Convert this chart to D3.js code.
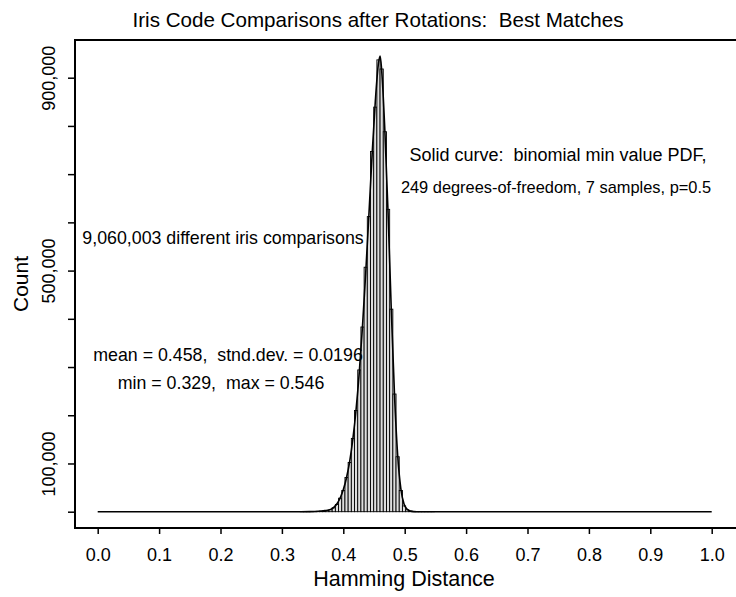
<!DOCTYPE html>
<html>
<head>
<meta charset="utf-8">
<script src="https://cdn.jsdelivr.net/npm/d3@7"></script>
<style>
  body { margin: 0; background: #fff; }
  svg { display: block; }
  text { font-family: "Liberation Sans", Arial, Helvetica, sans-serif; fill: #000; white-space: pre; }
</style>
</head>
<body>
<div></div>
<script>
// histogram bins: left edge of each bin (hamming distance) and its count
const binWidth = 0.0052;
const binStart = [0.3299, 0.3351, 0.3403, 0.3455, 0.3507, 0.3559, 0.3611, 0.3663, 0.3715, 0.3767,
    0.3819, 0.3871, 0.3923, 0.3975, 0.4027, 0.4079, 0.4131, 0.4183, 0.4235, 0.4287,
    0.4339, 0.4391, 0.4443, 0.4495, 0.4547, 0.4599, 0.4651, 0.4703, 0.4755, 0.4807,
    0.4859, 0.4911, 0.4963, 0.5015, 0.5067, 0.5119, 0.5171, 0.5223, 0.5275, 0.5327,
    0.5379, 0.5431];
const binCount = [30, 60, 120, 250, 450, 700, 1100, 1700, 2600, 4000,
    8000, 15000, 28000, 44000, 71000, 102000, 152000, 210000, 294000, 383000,
    507000, 612000, 747000, 839000, 937000, 918000, 788000, 627000, 420000, 244000,
    114000, 44000, 12000, 4000, 1200, 400, 150, 60, 25, 10,
    5, 2];

// solid curve: binomial min value pdf (scaled to counts)
const curveHD = [0.0, 0.33, 0.345, 0.36, 0.37, 0.3793, 0.3845, 0.3897, 0.3949, 0.4001,
    0.4053, 0.4105, 0.4157, 0.4209, 0.4261, 0.4313, 0.4365, 0.4417, 0.4469, 0.4521,
    0.4573, 0.4600, 0.4625, 0.4677, 0.4729, 0.4781, 0.4833, 0.4885, 0.4937, 0.4989,
    0.5041, 0.5093, 0.52, 1.0];
const curveCount = [0, 0, 150, 800, 2200, 4800, 9000, 16500, 28500, 46000,
    71000, 105000, 152000, 213000, 290000, 385000, 495000, 615000, 740000, 850000,
    930000, 945000, 915000, 790000, 620000, 420000, 245000, 118000, 48000, 16000,
    5000, 1200, 0, 0];

const xTicks = [0.0, 0.1, 0.2, 0.3, 0.4, 0.5, 0.6, 0.7, 0.8, 0.9, 1.0];
const yTicks = [0, 100000, 200000, 300000, 400000, 500000, 600000, 700000, 800000, 900000];
const yLabeled = [100000, 500000, 900000];

const title = "Iris Code Comparisons after Rotations:  Best Matches";
const notes = [
    { text: "Solid curve:  binomial min value PDF,", cx: 558, y: 161, size: 18 },
    { text: "249 degrees-of-freedom, 7 samples, p=0.5", cx: 556, y: 193, size: 16.4 },
    { text: "9,060,003 different iris comparisons", cx: 223, y: 244, size: 17.8 },
    { text: "mean = 0.458,  stnd.dev. = 0.0196", cx: 228, y: 361, size: 17.8 },
    { text: "min = 0.329,  max = 0.546", cx: 221, y: 389, size: 17.8 }
];

const W = 736, H = 597;
const frame = { left: 75, top: 40, bottom: 528, right: 745 };

const svg = d3.select("div").append("svg")
    .attr("width", W)
    .attr("height", H);

const x = d3.scaleLinear().domain([0, 1]).range([97.7, 711.7]);
const y = d3.scaleLinear().domain([0, 900000]).range([511.7, 77.7]);

// bars
const bins = binStart.map((d, i) => ({ x0: d, x1: d + binWidth, n: binCount[i] }));
svg.append("g")
    .selectAll("rect")
    .data(bins)
    .join("rect")
    .attr("x", d => x(d.x0))
    .attr("width", d => x(d.x1) - x(d.x0))
    .attr("y", d => y(d.n))
    .attr("height", d => y(0) - y(d.n))
    .attr("fill", "#dedede")
    .attr("stroke", "#000")
    .attr("stroke-width", 0.9);

// curve
const pts = curveHD.map((d, i) => [d, curveCount[i]]);
svg.append("path")
    .datum(pts)
    .attr("fill", "none")
    .attr("stroke", "#000")
    .attr("stroke-width", 1.6)
    .attr("d", d3.line()
        .curve(d3.curveMonotoneX)
        .x(d => x(d[0]))
        .y(d => y(d[1])));

// frame
svg.append("path")
    .attr("d", `M${frame.right},${frame.top}H${frame.left}V${frame.bottom}H${frame.right}`)
    .attr("fill", "none")
    .attr("stroke", "#000")
    .attr("stroke-width", 2);

// x axis
const gx = svg.append("g")
    .attr("transform", `translate(0,${frame.bottom})`)
    .call(d3.axisBottom(x).tickValues(xTicks).tickSize(6).tickPadding(14)
        .tickFormat(d3.format(".1f")));
gx.select(".domain").remove();
gx.selectAll("line").attr("stroke-width", 1.5);
gx.selectAll("text").attr("font-size", 18).attr("font-family", null);

// y axis
const gy = svg.append("g")
    .attr("transform", `translate(${frame.left},0)`)
    .call(d3.axisLeft(y).tickValues(yTicks).tickSize(7)
        .tickFormat(d => yLabeled.includes(d) ? d3.format(",")(d) : ""));
gy.select(".domain").remove();
gy.selectAll("line").attr("stroke-width", 1.5);
gy.selectAll("text")
    .attr("font-size", 18)
    .attr("font-family", null)
    .attr("text-anchor", "middle")
    .attr("transform", "rotate(-90)")
    .attr("x", 0)
    .attr("y", -20)
    .attr("dy", null);

// titles
svg.append("text")
    .attr("x", 378).attr("y", 27)
    .attr("text-anchor", "middle")
    .attr("font-size", 20.6)
    .text(title);

svg.append("text")
    .attr("x", 404).attr("y", 586)
    .attr("text-anchor", "middle")
    .attr("font-size", 21.5)
    .text("Hamming Distance");

svg.append("text")
    .attr("transform", "translate(28,284) rotate(-90)")
    .attr("text-anchor", "middle")
    .attr("font-size", 21)
    .text("Count");

svg.append("g")
    .selectAll("text")
    .data(notes)
    .join("text")
    .attr("x", d => d.cx)
    .attr("y", d => d.y)
    .attr("text-anchor", "middle")
    .attr("font-size", d => d.size)
    .text(d => d.text);
</script>
</body>
</html>
